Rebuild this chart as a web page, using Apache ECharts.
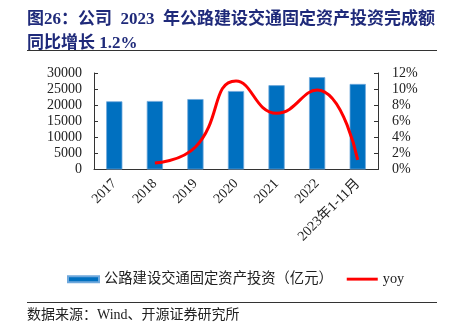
<!DOCTYPE html>
<html><head><meta charset="utf-8">
<script src="https://cdn.jsdelivr.net/npm/echarts@6/dist/echarts.min.js"></script>
<style>html,body{margin:0;padding:0;background:#fff}#c{width:449px;height:323px}</style>
</head><body><div id="c"></div>
<script>
const categories = ['2017','2018','2019','2020','2021','2022','2023年1-11月'];
const investment = [21200, 21300, 21900, 24400, 26200, 28700, 26600];
const yoy = [null, 0.8, 2.8, 11.0, 7.0, 9.9, 1.2];
const leftTicks = [0, 5000, 10000, 15000, 20000, 25000, 30000];
const rightTicks = [0, 2, 4, 6, 8, 10, 12];
const seriesNames = ['公路建设交通固定资产投资（亿元）', 'yoy'];

const serif = '"Liberation Serif","Times New Roman",serif';
const cjk = '"Liberation Serif","Noto Sans CJK SC",serif';
const chart = echarts.init(document.getElementById('c'));
chart.setOption({
  animation: false,
  title: {
    text: '图26：公司  2023  年公路建设交通固定资产投资完成额\n同比增长 1.2%',
    left: 22, top: 2,
    textStyle: {color: '#1F2A7A', fontSize: 17, fontWeight: 'bold', fontFamily: cjk, lineHeight: 24.5}
  },
  graphic: [
    {type: 'line', shape: {x1: 27, y1: 50.5, x2: 437, y2: 50.5}, style: {stroke: '#333', lineWidth: 1}},
    {type: 'line', shape: {x1: 27, y1: 302.5, x2: 437, y2: 302.5}, style: {stroke: '#333', lineWidth: 1}},
    {type: 'text', left: 27, top: 308, style: {text: '数据来源：Wind、开源证券研究所', fill: '#222', font: '14px ' + cjk}}
  ],
  legend: {
    top: 267, left: 62, itemGap: 14, itemWidth: 31, itemHeight: 6,
    textStyle: {fontFamily: cjk, fontSize: 14.3, color: '#222'},
    data: [
      {name: seriesNames[0], icon: 'rect'},
      {name: seriesNames[1], icon: 'path://M0,0 L32,0 L32,3 L0,3 Z', itemStyle: {color: '#FF0000'}}
    ]
  },
  grid: {left: 94, right: 71, top: 73, height: 96.5},
  xAxis: {
    type: 'category', data: categories, boundaryGap: true,
    axisLine: {lineStyle: {color: '#333'}},
    axisTick: {inside: true, length: 4, lineStyle: {color: '#333'}},
    axisLabel: {rotate: 45, color: '#222', fontFamily: cjk, fontSize: 14, margin: 12, interval: 0}
  },
  yAxis: [
    {type: 'value', min: 0, max: 30000, interval: 5000, splitLine: {show: false},
     axisLine: {show: true, lineStyle: {color: '#333'}},
     axisTick: {show: true, inside: true, length: 4, lineStyle: {color: '#333'}},
     axisLabel: {color: '#222', fontFamily: serif, fontSize: 14, margin: 12, formatter: v => String(v)}},
    {type: 'value', min: 0, max: 12, interval: 2, splitLine: {show: false},
     axisLine: {show: true, lineStyle: {color: '#333'}},
     axisTick: {show: true, inside: true, length: 4, lineStyle: {color: '#333'}},
     axisLabel: {color: '#222', fontFamily: serif, fontSize: 14, margin: 14, formatter: '{value}%'}}
  ],
  series: [
    {name: seriesNames[0], type: 'bar', data: investment, barWidth: '40%',
     itemStyle: {color: '#0070C0', borderColor: '#6FA8DC', borderWidth: 0.8}},
    {name: seriesNames[1], type: 'line', yAxisIndex: 1, data: yoy, smooth: 0.5, showSymbol: false, connectNulls: false,
     lineStyle: {color: '#FF0000', width: 3}, itemStyle: {color: '#FF0000'}}
  ]
});
</script></body></html>
